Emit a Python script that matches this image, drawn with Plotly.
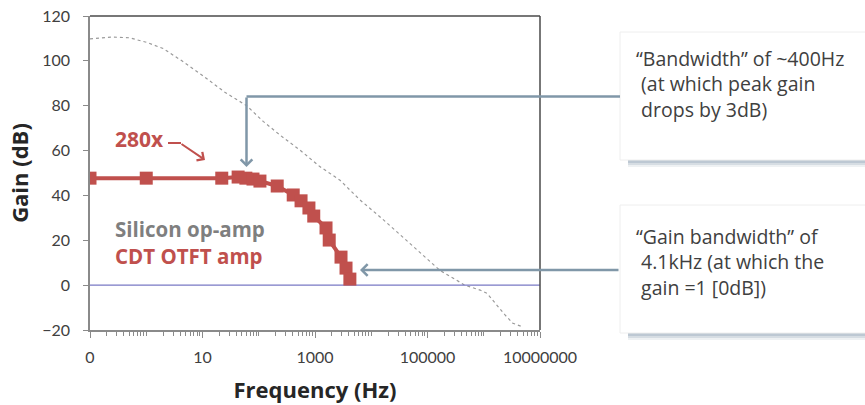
import plotly.graph_objects as go

# ---------------- data ----------------
otft_freq = [0.1, 1, 22, 43, 59, 79, 105, 213, 410, 565, 780, 950, 1570, 1790, 2900, 3560, 4170]
otft_gain = [47.7, 47.7, 47.7, 48.2, 47.7, 47.3, 46.4, 44.2, 40.2, 37.6, 34.4, 30.8, 25.5, 20.1, 12.5, 7.6, 2.7]

si_freq = [0.1, 0.25, 0.5, 1, 2, 4.3, 10, 25, 61, 120, 239, 540, 1200, 2780, 6300, 15000, 40000,
           100000, 164000, 460000, 860000, 1150000, 1580000, 2390000, 3300000, 4800000]
si_gain = [109.8, 110.6, 110.3, 108.3, 105.5, 100, 93.5, 86, 80, 73, 66.9, 60.2, 53, 46.8, 38, 30, 20.5,
           11.5, 6.7, 0, -2.2, -3.7, -8.1, -13.3, -17, -18.5]

unity_freq = [0.1, 1e7]
unity_gain = [0, 0]

x_tickvals = [0.1, 10, 1000, 100000, 10000000]
x_ticktext = ["0", "10", "1000", "100000", "10000000"]
y_tickvals = [-20, 0, 20, 40, 60, 80, 100, 120]

callout1_lines = ["\u201cBandwidth\u201d of ~400Hz", "(at which peak gain", "drops by 3dB)"]
callout2_lines = ["\u201cGain bandwidth\u201d of", "4.1kHz (at which the", "gain =1 [0dB])"]

RED = "#C0504D"
GREY_TXT = "#7F7F7F"
CONN = "#8097A8"
TXT = "#404040"

fig = go.Figure()
fig.add_trace(go.Scatter(x=si_freq, y=si_gain, mode="lines",
                         line=dict(color="#9A9A9A", width=1.2, dash="3px,3px"),
                         name="Silicon op-amp", showlegend=False))
fig.add_trace(go.Scatter(x=unity_freq, y=unity_gain, mode="lines",
                         line=dict(color="#7878C4", width=1.2), showlegend=False))
fig.add_trace(go.Scatter(x=otft_freq, y=otft_gain, mode="lines+markers",
                         line=dict(color=RED, width=4),
                         marker=dict(symbol="square", size=13, color=RED),
                         name="CDT OTFT amp", showlegend=False))

minor_vals = []
for e in range(-1, 7):
    for m in range(1, 10):
        v = m * 10 ** e
        if v not in x_tickvals:
            minor_vals.append(v)

fig.update_layout(
    width=865, height=405,
    margin=dict(l=90, r=325, t=16, b=75),
    paper_bgcolor="white", plot_bgcolor="white",
    font=dict(family="Lato, sans-serif", color=TXT),
    xaxis=dict(type="log", range=[-1, 7], tickmode="array", tickvals=x_tickvals, ticktext=x_ticktext,
               automargin=False,
               ticks="outside", ticklen=6, tickwidth=1.2, tickcolor="#8A8A8A",
               showline=True, linecolor="#8A8A8A", linewidth=1.5, showgrid=False, zeroline=False,
               tickfont=dict(family="Lato, sans-serif", size=16, color=TXT), ticklabelstandoff=6,
               minor=dict(tickmode="array", tickvals=minor_vals, ticks="outside", ticklen=4,
                          tickcolor="#8A8A8A", tickwidth=1, showgrid=False),
               title=dict(text="<b>Frequency (Hz)</b>", standoff=18,
                          font=dict(family="Open Sans, sans-serif", size=22, color="#262626"))),
    yaxis=dict(range=[-20, 120], tickmode="array", tickvals=y_tickvals,
               automargin=False,
               ticks="outside", ticklen=5, tickwidth=1.2, tickcolor="#8A8A8A",
               showline=True, linecolor="#8A8A8A", linewidth=1.5, showgrid=False, zeroline=False,
               tickfont=dict(family="Lato, sans-serif", size=16, color=TXT), ticklabelstandoff=10,
               title=dict(text="<b>Gain (dB)</b>", standoff=8,
                          font=dict(family="Open Sans, sans-serif", size=22, color="#262626"))),
)

def px(x):
    return (x - 90) / 450.0

def py(y):
    return (330 - y) / 314.0

shapes = []
# plot frame top and right
shapes.append(dict(type="line", xref="paper", yref="paper", x0=0, x1=1, y0=1, y1=1,
                   line=dict(color="#4A4A4A", width=1.5)))
shapes.append(dict(type="line", xref="paper", yref="paper", x0=1, x1=1, y0=0, y1=1,
                   line=dict(color="#4A4A4A", width=1.5)))

# callout boxes with shadows
for top, bottom in [(32, 160), (205, 333)]:
    for i, op in enumerate([0.18, 0.3, 0.45]):
        off = 7 - i * 2
        shapes.append(dict(type="rect", xref="paper", yref="paper",
                           x0=px(628), x1=px(880), y0=py(bottom + off), y1=py(top + off + 4),
                           fillcolor="#9FB0BF", opacity=op, line=dict(width=0)))
    shapes.append(dict(type="rect", xref="paper", yref="paper",
                       x0=px(620), x1=px(880), y0=py(bottom), y1=py(top),
                       fillcolor="white", line=dict(color="#EEEEEE", width=1)))

# connector lines
shapes.append(dict(type="line", xref="paper", yref="paper", x0=px(246.5), x1=px(620), y0=py(96.5), y1=py(96.5),
                   line=dict(color=CONN, width=2.5)))
# 280x arrow horizontal part
shapes.append(dict(type="line", xref="paper", yref="paper", x0=px(168), x1=px(181), y0=py(143), y1=py(143),
                   line=dict(color=RED, width=2)))
fig.update_layout(shapes=shapes)

ann = []
# vertical arrow (bandwidth)
ann.append(dict(xref="paper", yref="paper", x=px(246.5), y=py(167), ax=0, ay=-71, text="",
                showarrow=True, arrowhead=4, arrowsize=0.9, arrowwidth=2.5, arrowcolor=CONN))
# horizontal arrow (gain bandwidth)
ann.append(dict(xref="paper", yref="paper", x=px(360), y=py(270), ax=260, ay=0, text="",
                showarrow=True, arrowhead=4, arrowsize=0.9, arrowwidth=2.5, arrowcolor=CONN))
# 280x arrow
ann.append(dict(xref="paper", yref="paper", x=px(205), y=py(160), ax=-25, ay=-17, text="",
                showarrow=True, arrowhead=4, arrowsize=1, arrowwidth=2, arrowcolor=RED))
ann.append(dict(xref="paper", yref="paper", x=px(139), y=py(139), text="<b>280x</b>", showarrow=False,
                xanchor="center", yanchor="middle",
                font=dict(family="Open Sans, sans-serif", size=21, color=RED)))
ann.append(dict(xref="paper", yref="paper", x=px(113), y=py(243), showarrow=False,
                text=("<b><span style='color:%s'>Silicon op-amp</span></b><br>"
                      "<b><span style='color:%s'>CDT OTFT amp</span></b>") % (GREY_TXT, RED),
                xanchor="left", yanchor="middle", align="left",
                font=dict(family="Open Sans, sans-serif", size=20.5, color=RED)))

NB = "\u00a0"
for lines, ymid in [(callout1_lines, 84), (callout2_lines, 262)]:
    txt = "<br>".join([lines[0]] + [NB + l for l in lines[1:]])
    ann.append(dict(xref="paper", yref="paper", x=px(634), y=py(ymid), text=txt, showarrow=False,
                    xanchor="left", yanchor="middle", align="left",
                    font=dict(family="Open Sans, sans-serif", size=19.5, color=TXT)))
fig.update_layout(annotations=ann)

fig.write_html("out.html")
